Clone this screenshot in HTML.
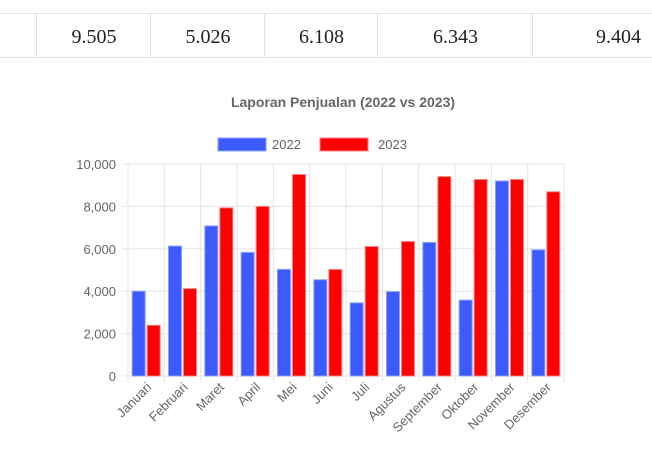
<!DOCTYPE html>
<html><head><meta charset="utf-8"><style>
body{margin:0;width:652px;height:461px;background:#fff;overflow:hidden;position:relative;font-family:"Liberation Sans",sans-serif}
.cell{position:absolute;top:14px;height:43px;border-left:1px solid #e3e3e3;font-family:"Liberation Serif",serif;font-size:20px;color:#222;line-height:46px}
</style></head><body>
<div style="position:absolute;left:0;top:13px;width:652px;height:43px;border-top:1px solid #e3e3e3;border-bottom:1px solid #e3e3e3"></div>
<div class="cell" style="left:36px;width:114px;text-align:center">9.505</div>
<div class="cell" style="left:150px;width:114px;text-align:center">5.026</div>
<div class="cell" style="left:264px;width:113px;text-align:center">6.108</div>
<div class="cell" style="left:377px;width:155px;text-align:center">6.343</div>
<div class="cell" style="left:532px;width:108px;text-align:right">9.404</div>
<svg id="chart" width="652" height="461" style="position:absolute;left:0;top:0"></svg>
<script>
const categories=["Januari","Februari","Maret","April","Mei","Juni","Juli","Agustus","September","Oktober","November","Desember"];
const values2022=[4000,6130,7080,5830,5030,4540,3450,3980,6300,3580,9200,5950];
const values2023=[2390,4120,7930,8000,9505,5026,6108,6343,9404,9270,9270,8690];
const yTicks=[0,2000,4000,6000,8000,10000];
const svg=document.getElementById('chart');const NS='http://www.w3.org/2000/svg';
const L=128,R=564,T=164,B=376,yMax=10000;
const y=v=>B-(v/yMax)*(B-T);
const cw=(R-L)/categories.length;
const x=i=>L+i*cw;
function mk(tag,attrs,txt){const e=document.createElementNS(NS,tag);for(const k in attrs)e.setAttribute(k,attrs[k]);if(txt!==undefined)e.textContent=txt;svg.appendChild(e);return e;}
let t=mk('text',{x:343,y:107,'text-anchor':'middle','font-size':'14','font-weight':'bold',fill:'#666'},'Laporan Penjualan (2022 vs 2023)');


let lg=mk('rect',{x:218,y:138,width:48,height:13,fill:'#3d5afe',stroke:'#8aa0ff'});


t=mk('text',{x:272,y:149,'font-size':'13',fill:'#666'},'2022');


lg=mk('rect',{x:320,y:138,width:48,height:13,fill:'#ff0000',stroke:'#ff8080'});


t=mk('text',{x:378,y:149,'font-size':'13',fill:'#666'},'2023');


yTicks.forEach(v=>{
  const g=mk('line',{x1:L-6,x2:R,y1:y(v),y2:y(v),stroke:'#e5e5e5'});
  
  
  const tl=mk('text',{x:116,y:y(v)+5,'text-anchor':'end','font-size':'13',fill:'#666'},v.toLocaleString('en-US'));
  
  
});
for(let i=0;i<=categories.length;i++){
  const g=mk('line',{x1:x(i),x2:x(i),y1:T,y2:B+6,stroke:'#e5e5e5'});
  
  
}
categories.forEach((c,i)=>{
  const bw=13,cx=x(i)+cw/2;
  const b1=mk('rect',{x:cx-bw-1,y:y(values2022[i]),width:bw,height:B-y(values2022[i]),fill:'#3d5afe',stroke:'#8aa0ff','stroke-width':1});
  
  
  const b2=mk('rect',{x:cx+1,y:y(values2023[i]),width:bw,height:B-y(values2023[i]),fill:'#ff0000',stroke:'#ff8080','stroke-width':1});
  
  
  const lx=cx+6,ly=B+12;
  const tl=mk('text',{x:lx,y:ly,'text-anchor':'end','font-size':'13',fill:'#666',transform:`rotate(-45 ${lx} ${ly})`},c);
  
  
});
</script>
</body></html>
